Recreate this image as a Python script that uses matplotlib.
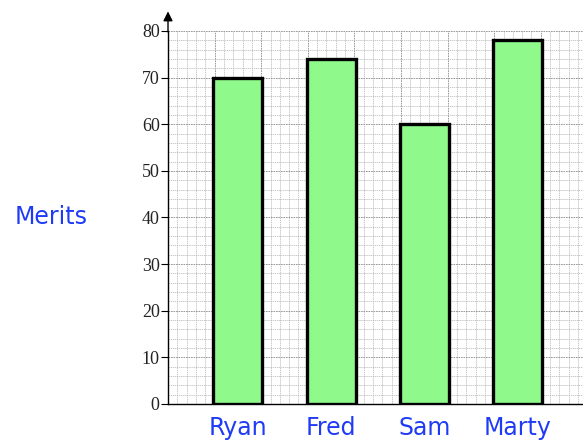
import numpy as np
import matplotlib.pyplot as plt

names = ["Ryan", "Fred", "Sam", "Marty"]
merits = [70, 74, 60, 78]
y_ticks = [0, 10, 20, 30, 40, 50, 60, 70, 80]

fig = plt.figure(figsize=(5.83, 4.45), dpi=100)
ax = fig.add_axes([168 / 583, 1 - 404 / 445, 415 / 583, 373 / 445])

# bars sit on a square grid, one bar every 20 grid units
pos = [15 + 20 * i for i in range(len(names))]
ax.bar(pos, merits, width=10.5, color="#8ff98b", edgecolor="black",
       linewidth=2.4, zorder=3)

ax.set_xlim(0, 415 / 4.66)
ax.set_ylim(0, 80)

ax.set_xticks(np.arange(0, 90, 10))
ax.set_xticks(np.arange(0, 90, 2), minor=True)
ax.set_yticks(y_ticks)
ax.set_yticks(np.arange(0, 81, 2), minor=True)
ax.grid(which="major", color="#8a8a8a", linestyle=(0, (2, 1)), linewidth=0.6, zorder=0)
ax.grid(which="minor", color="#b5b5b5", linestyle=(0, (2, 1)), linewidth=0.5, zorder=0)

ax.set_yticklabels([str(v) for v in y_ticks], fontfamily="Liberation Serif",
                   fontsize=13, color="#222222")
ax.tick_params(axis="y", which="major", length=5, width=0.8, pad=1)
ax.tick_params(axis="y", which="minor", length=0)
ax.tick_params(axis="x", which="both", length=0, labelbottom=False)

for p, n in zip(pos, names):
    ax.text(p, -2.6, n, ha="center", va="top", fontsize=17, color="#1f3bf5",
            fontfamily="DejaVu Sans")

ax.text(-25, 40, "Merits", ha="center", va="center", fontsize=17,
        color="#1f3bf5", fontfamily="DejaVu Sans")

for s in ["top", "right"]:
    ax.spines[s].set_visible(False)
ax.spines["left"].set_linewidth(1.0)
ax.spines["bottom"].set_linewidth(1.0)

# arrow at the top of the y axis
ax.annotate("", xy=(0, 1.06), xytext=(0, 0.99), xycoords="axes fraction",
            arrowprops=dict(arrowstyle="-|>", color="black", lw=1.0,
                            mutation_scale=14), annotation_clip=False)

fig.savefig("out.png", dpi=100)
